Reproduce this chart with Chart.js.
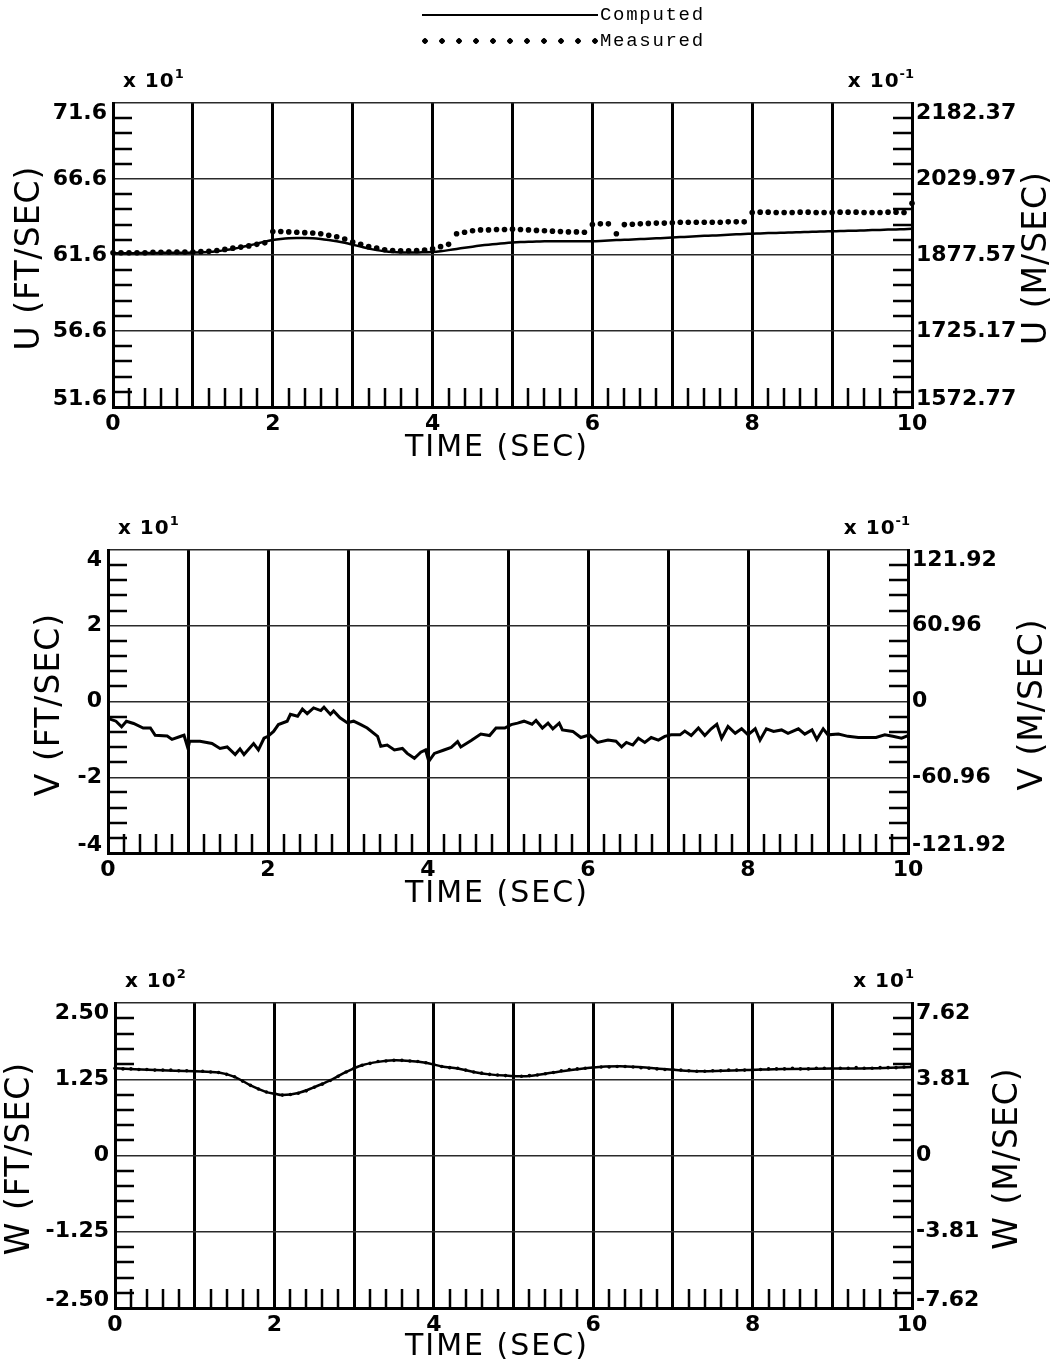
<!DOCTYPE html>
<html>
<head>
<meta charset="utf-8">
<title>U, V, W time histories</title>
<script src="https://cdn.jsdelivr.net/npm/chart.js@4.4.0/dist/chart.umd.min.js"></script>
<style>
  body { margin: 0; background: #fff; width: 1055px; height: 1367px; position: relative; overflow: hidden; }
  canvas { position: absolute; left: 0; }
  .key { position: absolute; left: 422px; height: 20px; display: flex; align-items: center; z-index: 2; }
  .key .solid { width: 176px; height: 2px; background: #000; }
  .key .dots { width: 176px; height: 6px; background: radial-gradient(circle at 3px 3px, #000 2.5px, transparent 3px) 0 0 / 17px 6px repeat-x; }
  .key .txt { font: 19px "Liberation Mono", "DejaVu Sans Mono", monospace; letter-spacing: 1.7px; margin-left: 2px; color: #000; }
</style>
</head>
<body>
<div class="key" style="top:5px"><span class="solid"></span><span class="txt">Computed</span></div>
<div class="key" style="top:31px"><span class="dots"></span><span class="txt">Measured</span></div>

<canvas id="uChart" width="1055" height="480" style="top:0"></canvas>
<canvas id="vChart" width="1055" height="440" style="top:480px"></canvas>
<canvas id="wChart" width="1055" height="447" style="top:920px"></canvas>

<script>
// --- data (left-axis units) ---
const sampleStep = 0.1; // measured/computed U and measured W are sampled every 0.1 s

const uComputed = [
  61.72, 61.72, 61.72, 61.72, 61.73, 61.73, 61.74, 61.74, 61.75, 61.75,
  61.76, 61.78, 61.80, 61.85, 61.92, 62.00, 62.10, 62.22, 62.35, 62.48,
  62.58, 62.65, 62.70, 62.72, 62.72, 62.70, 62.65, 62.58, 62.50, 62.40,
  62.28, 62.15, 62.02, 61.92, 61.85, 61.80, 61.77, 61.76, 61.76, 61.78,
  61.80, 61.85, 61.92, 62.00, 62.08, 62.15, 62.22, 62.28, 62.33, 62.38,
  62.42, 62.45, 62.47, 62.48, 62.50, 62.50, 62.50, 62.50, 62.50, 62.50,
  62.50, 62.52, 62.55, 62.58, 62.60, 62.62, 62.65, 62.67, 62.70, 62.72,
  62.75, 62.78, 62.80, 62.83, 62.86, 62.88, 62.90, 62.93, 62.96, 62.98,
  63.00, 63.02, 63.04, 63.05, 63.07, 63.08, 63.10, 63.12, 63.13, 63.15,
  63.16, 63.18, 63.19, 63.20, 63.22, 63.24, 63.25, 63.27, 63.28, 63.30, 63.32
];
const uMeasured = [
  61.75, 61.75, 61.75, 61.75, 61.75, 61.78, 61.78, 61.80, 61.80, 61.80,
  61.80, 61.82, 61.85, 61.90, 61.97, 62.05, 62.12, 62.20, 62.30, 62.40,
  63.15, 63.15, 63.12, 63.10, 63.07, 63.05, 63.00, 62.90, 62.80, 62.65,
  62.45, 62.30, 62.15, 62.05, 61.95, 61.90, 61.88, 61.88, 61.90, 61.92,
  62.00, 62.15, 62.30, 63.00, 63.10, 63.20, 63.25, 63.25, 63.28, 63.28,
  63.30, 63.28, 63.25, 63.22, 63.20, 63.17, 63.15, 63.12, 63.12, 63.10,
  63.60, 63.65, 63.65, 63.00, 63.60, 63.62, 63.65, 63.68, 63.70, 63.70,
  63.72, 63.75, 63.75, 63.75, 63.75, 63.75, 63.75, 63.78, 63.78, 63.78,
  64.40, 64.42, 64.42, 64.40, 64.40, 64.40, 64.42, 64.42, 64.40, 64.40,
  64.40, 64.42, 64.42, 64.42, 64.40, 64.40, 64.40, 64.42, 64.42, 64.40, 65.00
];

const vTime = [
  0, 0.1, 0.17, 0.23, 0.32, 0.44, 0.53, 0.59, 0.74, 0.8,
  0.92, 0.95, 1.0, 1.02, 1.15, 1.3, 1.4, 1.49, 1.59, 1.65,
  1.7, 1.82, 1.88, 1.95, 2.0, 2.07, 2.13, 2.24, 2.28, 2.37,
  2.43, 2.49, 2.57, 2.66, 2.7, 2.78, 2.82, 2.9, 2.99, 3.07,
  3.16, 3.24, 3.37, 3.41, 3.49, 3.58, 3.68, 3.74, 3.83, 3.91,
  3.97, 4.01, 4.08, 4.2, 4.29, 4.37, 4.41, 4.54, 4.66, 4.77,
  4.85, 4.96, 5.04, 5.12, 5.2, 5.3, 5.35, 5.43, 5.5, 5.56,
  5.64, 5.68, 5.81, 5.91, 6.02, 6.12, 6.25, 6.35, 6.42, 6.48,
  6.56, 6.63, 6.71, 6.79, 6.88, 6.96, 7.04, 7.15, 7.21, 7.29,
  7.38, 7.46, 7.54, 7.61, 7.67, 7.75, 7.84, 7.92, 8.0, 8.09,
  8.15, 8.23, 8.32, 8.42, 8.5, 8.63, 8.71, 8.8, 8.86, 8.94,
  9.0, 9.13, 9.25, 9.38, 9.5, 9.6, 9.71, 9.81, 9.92, 10.0
];
const vValue = [
  -0.45, -0.52, -0.67, -0.52, -0.58, -0.70, -0.70, -0.89, -0.91, -1.00,
  -0.91, -0.89, -1.24, -1.05, -1.05, -1.11, -1.24, -1.20, -1.40, -1.25,
  -1.40, -1.11, -1.28, -0.97, -0.92, -0.79, -0.61, -0.52, -0.34, -0.39,
  -0.20, -0.32, -0.17, -0.24, -0.15, -0.34, -0.25, -0.43, -0.56, -0.52,
  -0.61, -0.70, -0.92, -1.18, -1.15, -1.28, -1.24, -1.37, -1.50, -1.34,
  -1.28, -1.58, -1.37, -1.28, -1.21, -1.06, -1.20, -1.03, -0.86, -0.90,
  -0.70, -0.70, -0.61, -0.57, -0.52, -0.60, -0.50, -0.70, -0.57, -0.72,
  -0.57, -0.75, -0.79, -0.95, -0.88, -1.08, -1.02, -1.05, -1.20, -1.08,
  -1.15, -0.97, -1.08, -0.95, -1.02, -0.92, -0.88, -0.88, -0.78, -0.90,
  -0.70, -0.90, -0.72, -0.60, -0.97, -0.66, -0.84, -0.72, -0.88, -0.72,
  -1.02, -0.72, -0.79, -0.75, -0.84, -0.72, -0.86, -0.75, -1.00, -0.72,
  -0.88, -0.86, -0.92, -0.95, -0.95, -0.95, -0.88, -0.92, -0.97, -0.90
];

const wTime = [
  0, 0.5, 1.0, 1.3, 1.5, 1.7, 1.9, 2.0, 2.1, 2.3, 2.5, 2.7, 2.9, 3.1, 3.3, 3.5, 3.7,
  3.9, 4.1, 4.3, 4.5, 4.7, 4.9, 5.16, 5.5, 5.96, 6.42, 6.96, 7.34, 7.92, 8.38, 9.0, 9.5, 10.0
];
const wComputed = [
  1.43, 1.40, 1.38, 1.36, 1.29, 1.15, 1.04, 1.015, 0.99, 1.025, 1.12, 1.23, 1.37, 1.48, 1.535, 1.56, 1.55,
  1.52, 1.46, 1.426, 1.37, 1.33, 1.31, 1.30, 1.36, 1.44, 1.46, 1.41, 1.38, 1.40, 1.42, 1.425, 1.43, 1.45
];
const wMeasured = [
  1.43, 1.42, 1.42, 1.41, 1.41, 1.40, 1.40, 1.40, 1.39, 1.39,
  1.38, 1.38, 1.37, 1.36, 1.33, 1.29, 1.22, 1.15, 1.09, 1.04,
  1.01, 0.99, 1.00, 1.02, 1.06, 1.12, 1.17, 1.23, 1.30, 1.37,
  1.43, 1.48, 1.51, 1.54, 1.55, 1.56, 1.56, 1.55, 1.54, 1.52,
  1.49, 1.46, 1.44, 1.43, 1.40, 1.37, 1.35, 1.33, 1.32, 1.31,
  1.30, 1.30, 1.31, 1.32, 1.34, 1.36, 1.39, 1.41, 1.42, 1.43,
  1.44, 1.45, 1.45, 1.46, 1.46, 1.45, 1.44, 1.43, 1.42, 1.41,
  1.41, 1.40, 1.39, 1.38, 1.38, 1.39, 1.39, 1.40, 1.40, 1.40,
  1.41, 1.41, 1.42, 1.42, 1.42, 1.43, 1.42, 1.42, 1.43, 1.43,
  1.43, 1.43, 1.43, 1.44, 1.43, 1.43, 1.44, 1.44, 1.44, 1.45, 1.48
];

// --- axis ticks: left (ft/sec) and right (m/sec) ---
const uLeftTicks = [71.6, 66.6, 61.6, 56.6, 51.6];
const uLeftLabels = ['71.6', '66.6', '61.6', '56.6', '51.6'];
const uRightTicks = [2182.37, 2029.97, 1877.57, 1725.17, 1572.77];
const uRightLabels = ['2182.37', '2029.97', '1877.57', '1725.17', '1572.77'];

const vLeftTicks = [4, 2, 0, -2, -4];
const vLeftLabels = ['4', '2', '0', '-2', '-4'];
const vRightTicks = [121.92, 60.96, 0, -60.96, -121.92];
const vRightLabels = ['121.92', '60.96', '0', '-60.96', '-121.92'];

const wLeftTicks = [2.5, 1.25, 0, -1.25, -2.5];
const wLeftLabels = ['2.50', '1.25', '0', '-1.25', '-2.50'];
const wRightTicks = [7.62, 3.81, 0, -3.81, -7.62];
const wRightLabels = ['7.62', '3.81', '0', '-3.81', '-7.62'];

const sampled = vals => vals.map((v, i) => ({ x: +(i * sampleStep).toFixed(2), y: v }));
const paired = (ts, vals) => ts.map((t, i) => ({ x: t, y: vals[i] }));

const TICK_FONT = 'bold 22px "DejaVu Sans"';
const TITLE_FONT = '33px "DejaVu Sans"';

// Draws minor ticks, y tick labels, scale exponents and axis titles
const plotterFrame = {
  id: 'plotterFrame',
  beforeDatasetsDraw(chart, args, o) {
    const { ctx, chartArea: a, scales } = chart;
    const y = scales.y, x = scales.x;
    ctx.save();
    ctx.strokeStyle = '#000';
    ctx.lineWidth = 2.5;
    ctx.beginPath();
    for (let i = 0; i < o.leftTicks.length - 1; i++) {
      const v0 = o.leftTicks[i], v1 = o.leftTicks[i + 1];
      for (let k = 1; k < 5; k++) {
        const py = Math.round(y.getPixelForValue(v0 + (v1 - v0) * k / 5));
        ctx.moveTo(a.left, py); ctx.lineTo(a.left + 19, py);
        ctx.moveTo(a.right, py); ctx.lineTo(a.right - 19, py);
      }
    }
    for (let s = 0; s < 10; s++) {
      for (let k = 1; k < 5; k++) {
        const px = Math.round(x.getPixelForValue(s + k / 5));
        ctx.moveTo(px, a.bottom); ctx.lineTo(px, a.bottom - 19);
      }
    }
    ctx.stroke();
    ctx.restore();
  },
  afterDraw(chart, args, o) {
    const { ctx, chartArea: a, scales } = chart;
    ctx.save();
    ctx.fillStyle = '#000';
    ctx.font = TICK_FONT;
    ctx.textBaseline = 'middle';
    const clampY = py => Math.min(Math.max(py, a.top + 10), a.bottom - 8);
    ctx.textAlign = 'right';
    o.leftTicks.forEach((v, i) => {
      ctx.fillText(o.leftLabels[i], a.left - 6, clampY(scales.y.getPixelForValue(v)));
    });
    ctx.textAlign = 'left';
    o.rightTicks.forEach((v, i) => {
      ctx.fillText(o.rightLabels[i], a.right + 4, clampY(scales.y2.getPixelForValue(v)));
    });

    // scale factors above each y axis
    const drawExp = (xPos, exp, alignRight) => {
      ctx.font = 'bold 20px "DejaVu Sans"';
      ctx.letterSpacing = '1px';
      const base = 'x 10';
      const bw = ctx.measureText(base).width;
      ctx.font = 'bold 13px "DejaVu Sans"';
      ctx.letterSpacing = '0px';
      const ew = ctx.measureText(exp).width;
      const x0 = alignRight ? xPos - bw - ew : xPos;
      const yc = a.top - 21;
      ctx.textAlign = 'left';
      ctx.font = 'bold 20px "DejaVu Sans"';
      ctx.letterSpacing = '1px';
      ctx.fillText(base, x0, yc);
      ctx.font = 'bold 13px "DejaVu Sans"';
      ctx.letterSpacing = '0px';
      ctx.fillText(exp, x0 + bw, yc - 7);
    };
    drawExp(a.left + 10, o.leftExp, false);
    drawExp(a.right + 2, o.rightExp, true);

    // axis titles
    ctx.font = TITLE_FONT;
    ctx.letterSpacing = '1px';
    ctx.textAlign = 'center';
    const midY = (a.top + a.bottom) / 2 + 3;
    [[o.leftTitleX, o.leftTitle], [o.rightTitleX, o.rightTitle]].forEach(([tx, text]) => {
      ctx.save();
      ctx.translate(tx, midY);
      ctx.rotate(-Math.PI / 2);
      ctx.fillText(text, 0, 0);
      ctx.restore();
    });
    ctx.font = '30px "DejaVu Sans"';
    ctx.letterSpacing = '2px';
    ctx.fillText('TIME (SEC)', 497, a.bottom + o.timeTitleOffset);
    ctx.restore();
  }
};

function makeChart(id, cfg) {
  const ctx = document.getElementById(id);
  return new Chart(ctx, {
    type: 'line',
    data: { datasets: cfg.datasets },
    options: {
      responsive: false,
      animation: false,
      layout: { padding: { top: cfg.area.top, left: 0, right: 0, bottom: 0 } },
      plugins: {
        legend: { display: false },
        tooltip: { enabled: false },
        plotterFrame: cfg.frame
      },
      scales: {
        x: {
          type: 'linear', min: 0, max: 10,
          afterFit: s => { s.height = ctx.height - cfg.area.bottom; },
          ticks: {
            stepSize: 1, autoSkip: false, maxRotation: 0, padding: 4, color: '#000',
            font: { family: 'DejaVu Sans', size: 22, weight: 'bold' },
            callback: v => (v % 2 === 0 ? String(v) : '')
          },
          grid: { color: '#000', lineWidth: 3, drawTicks: false },
          border: { color: '#000', width: 3 }
        },
        y: {
          position: 'left',
          min: Math.min(...cfg.frame.leftTicks), max: Math.max(...cfg.frame.leftTicks),
          afterFit: s => { s.width = cfg.area.left; },
          afterBuildTicks: s => { s.ticks = cfg.frame.leftTicks.map(v => ({ value: v })); },
          ticks: { display: false },
          grid: { color: '#2a2a2a', lineWidth: 1.5, drawTicks: false },
          border: { color: '#000', width: 3 }
        },
        y2: {
          position: 'right',
          min: Math.min(...cfg.frame.rightTicks), max: Math.max(...cfg.frame.rightTicks),
          afterFit: s => { s.width = ctx.width - cfg.area.right; },
          ticks: { display: false },
          grid: { display: false },
          border: { color: '#000', width: 3 }
        }
      }
    },
    plugins: [plotterFrame]
  });
}

const lineStyle = { borderColor: '#000', borderWidth: 2.5, pointRadius: 0, fill: false, yAxisID: 'y' };
const dotStyle = { showLine: false, pointRadius: 2.8, pointBackgroundColor: '#000', pointBorderWidth: 0, yAxisID: 'y', clip: false };

makeChart('uChart', {
  area: { left: 113, right: 912, top: 103, bottom: 407 },
  datasets: [
    { label: 'Measured', data: sampled(uMeasured), ...dotStyle },
    { label: 'Computed', data: sampled(uComputed), ...lineStyle, tension: 0.3 }
  ],
  frame: {
    leftTicks: uLeftTicks, leftLabels: uLeftLabels, rightTicks: uRightTicks, rightLabels: uRightLabels,
    leftExp: '1', rightExp: '-1', leftTitle: 'U (FT/SEC)', rightTitle: 'U (M/SEC)',
    leftTitleX: 30, rightTitleX: 1037, timeTitleOffset: 41
  }
});

makeChart('vChart', {
  area: { left: 108, right: 908, top: 70, bottom: 373 },
  datasets: [
    { label: 'Computed', data: paired(vTime, vValue), ...lineStyle, borderWidth: 3, tension: 0 }
  ],
  frame: {
    leftTicks: vLeftTicks, leftLabels: vLeftLabels, rightTicks: vRightTicks, rightLabels: vRightLabels,
    leftExp: '1', rightExp: '-1', leftTitle: 'V (FT/SEC)', rightTitle: 'V (M/SEC)',
    leftTitleX: 50, rightTitleX: 1033, timeTitleOffset: 41
  }
});

makeChart('wChart', {
  area: { left: 115, right: 912, top: 83, bottom: 388 },
  datasets: [
    { label: 'Measured', data: sampled(wMeasured), ...dotStyle, pointRadius: 1.8 },
    { label: 'Computed', data: paired(wTime, wComputed), ...lineStyle, tension: 0.35 }
  ],
  frame: {
    leftTicks: wLeftTicks, leftLabels: wLeftLabels, rightTicks: wRightTicks, rightLabels: wRightLabels,
    leftExp: '2', rightExp: '1', leftTitle: 'W (FT/SEC)', rightTitle: 'W (M/SEC)',
    leftTitleX: 20, rightTitleX: 1008, timeTitleOffset: 39
  }
});
</script>
</body>
</html>
